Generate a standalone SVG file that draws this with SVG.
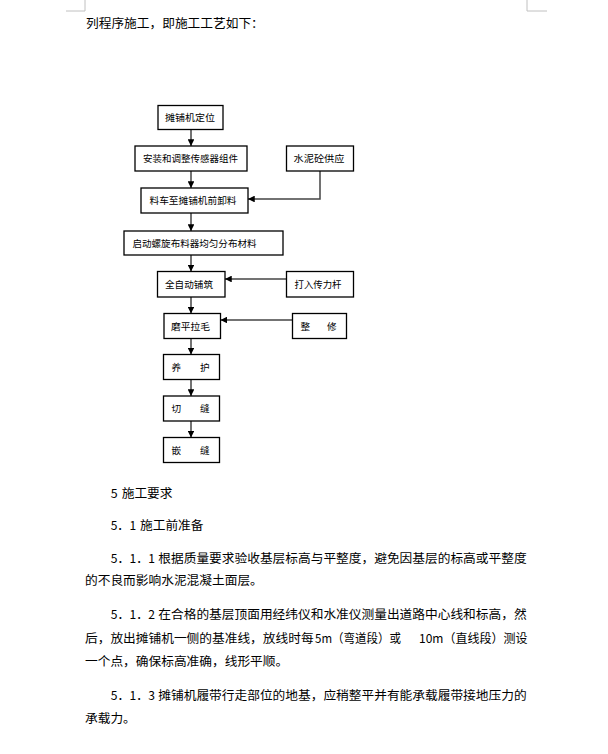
<svg xmlns="http://www.w3.org/2000/svg" width="608" height="754" viewBox="0 0 608 754">
<style>
.bg{fill:#ffffff}
.mark{stroke:#c0c0c0;stroke-width:1;fill:none}
.box rect{fill:#ffffff;stroke:#000000;stroke-width:1.3}
.box text{font-family:"Noto Sans CJK SC","Liberation Sans",sans-serif;font-size:9.6px;fill:#000000}
.con{stroke:#444444;stroke-width:1.5;fill:none}
.body{font-family:"Noto Sans CJK SC","Liberation Sans",sans-serif;font-size:12.4px;fill:#000000}
</style>
<defs>
<marker id="ah" viewBox="0 0 10 10" refX="10" refY="5" markerWidth="4.5" markerHeight="4.5" orient="auto" markerUnits="strokeWidth">
<path d="M0,0 L10,5 L0,10 z" fill="#000000"/>
</marker>
</defs>
<rect class="bg" x="0" y="0" width="608" height="754"/>
<g id="page-marks">
<path class="mark" d="M85,0 V11 H66"/>
<path class="mark" d="M527,0 V11 H547"/>
</g>
<g id="intro">
<text class="body" x="86" y="28" textLength="177.8" lengthAdjust="spacingAndGlyphs">列程序施工，即施工工艺如下：</text>
</g>
<g id="connectors">
<line class="con" x1="191" y1="130" x2="191" y2="146" marker-end="url(#ah)"/>
<line class="con" x1="191" y1="171" x2="191" y2="188" marker-end="url(#ah)"/>
<line class="con" x1="191" y1="213" x2="191" y2="231" marker-end="url(#ah)"/>
<line class="con" x1="191" y1="255" x2="191" y2="271.5" marker-end="url(#ah)"/>
<line class="con" x1="191" y1="297" x2="191" y2="313.5" marker-end="url(#ah)"/>
<line class="con" x1="191" y1="338.5" x2="191" y2="354.5" marker-end="url(#ah)"/>
<line class="con" x1="191" y1="379.5" x2="191" y2="396" marker-end="url(#ah)"/>
<line class="con" x1="191" y1="421" x2="191" y2="437.5" marker-end="url(#ah)"/>
<polyline class="con" points="320,171 320,199 248,199" marker-end="url(#ah)"/>
<line class="con" x1="286.5" y1="279" x2="225" y2="279" marker-end="url(#ah)"/>
<line class="con" x1="292.5" y1="320" x2="220.5" y2="320" marker-end="url(#ah)"/>
</g>
<g id="n1" class="box"><rect x="158" y="105.5" width="65" height="24"/><text x="165" y="121" textLength="50" lengthAdjust="spacingAndGlyphs">摊铺机定位</text></g>
<g id="n2" class="box"><rect x="135" y="146" width="112" height="25"/><text x="143" y="162" textLength="95" lengthAdjust="spacingAndGlyphs">安装和调整传感器组件</text></g>
<g id="n3" class="box"><rect x="286.5" y="146" width="67" height="25"/><text x="293.5" y="162" textLength="51" lengthAdjust="spacingAndGlyphs">水泥砼供应</text></g>
<g id="n4" class="box"><rect x="141" y="188" width="107" height="25"/><text x="149.5" y="204" textLength="87" lengthAdjust="spacingAndGlyphs">料车至摊铺机前卸料</text></g>
<g id="n5" class="box"><rect x="124" y="231" width="159" height="24"/><text x="132.5" y="246.5" textLength="124" lengthAdjust="spacingAndGlyphs">启动螺旋布料器均匀分布材料</text></g>
<g id="n6" class="box"><rect x="157.5" y="271.5" width="67.5" height="25.5"/><text x="165" y="288" textLength="48" lengthAdjust="spacingAndGlyphs">全自动铺筑</text></g>
<g id="n7" class="box"><rect x="286.5" y="271.5" width="67" height="25.5"/><text x="294.5" y="288" textLength="47" lengthAdjust="spacingAndGlyphs">打入传力杆</text></g>
<g id="n8" class="box"><rect x="164" y="313.5" width="56.5" height="25"/><text x="171" y="329.5" textLength="39" lengthAdjust="spacingAndGlyphs">磨平拉毛</text></g>
<g id="n9" class="box"><rect x="292.5" y="313.5" width="54" height="25"/><text x="300.5" y="329.5">整</text><text x="327" y="329.5">修</text></g>
<g id="n10" class="box"><rect x="163.5" y="354.5" width="56" height="25"/><text x="171.5" y="370.5">养</text><text x="200" y="370.5">护</text></g>
<g id="n11" class="box"><rect x="163.5" y="396" width="56" height="25"/><text x="171.5" y="412">切</text><text x="200" y="412">缝</text></g>
<g id="n12" class="box"><rect x="163.5" y="437.5" width="56" height="25"/><text x="171.5" y="453.5">嵌</text><text x="200" y="453.5">缝</text></g>
<g id="body-text" class="body">
<text x="110.7" y="498">5</text>
<text x="121.7" y="498" textLength="50.8" lengthAdjust="spacingAndGlyphs">施工要求</text>
<text x="110.7" y="530" textLength="25.4" lengthAdjust="spacingAndGlyphs">5．1</text>
<text x="140" y="530" textLength="63.5" lengthAdjust="spacingAndGlyphs">施工前准备</text>
<text x="110.7" y="563" textLength="44.4" lengthAdjust="spacingAndGlyphs">5．1．1</text>
<text x="158.3" y="563" textLength="368.3" lengthAdjust="spacingAndGlyphs">根据质量要求验收基层标高与平整度，避免因基层的标高或平整度</text>
<text x="85" y="585" textLength="177.8" lengthAdjust="spacingAndGlyphs">的不良而影响水泥混凝土面层。</text>
<text x="110.7" y="619" textLength="44.4" lengthAdjust="spacingAndGlyphs">5．1．2</text>
<text x="158.3" y="619" textLength="368.3" lengthAdjust="spacingAndGlyphs">在合格的基层顶面用经纬仪和水准仪测量出道路中心线和标高，然</text>
<text x="85" y="643" textLength="228.6" lengthAdjust="spacingAndGlyphs">后，放出摊铺机一侧的基准线，放线时每</text>
<text x="315" y="643" textLength="86" lengthAdjust="spacingAndGlyphs">5m（弯道段）或</text>
<text x="419" y="643" textLength="108.5" lengthAdjust="spacingAndGlyphs">10m（直线段）测设</text>
<text x="85" y="666" textLength="203.2" lengthAdjust="spacingAndGlyphs">一个点，确保标高准确，线形平顺。</text>
<text x="110.7" y="700" textLength="44.4" lengthAdjust="spacingAndGlyphs">5．1．3</text>
<text x="158.3" y="700" textLength="368.3" lengthAdjust="spacingAndGlyphs">摊铺机履带行走部位的地基，应稍整平并有能承载履带接地压力的</text>
<text x="85" y="723" textLength="50.8" lengthAdjust="spacingAndGlyphs">承载力。</text>
</g>
</svg>
